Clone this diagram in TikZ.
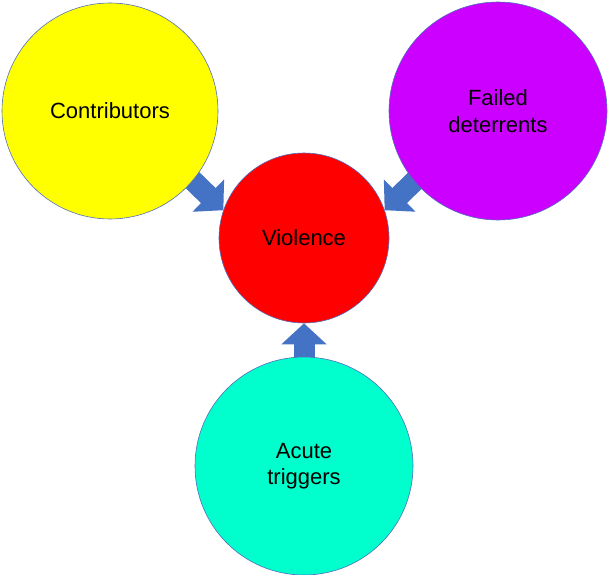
\documentclass[tikz,border=0pt]{standalone}
\usepackage{fontspec}
\setmainfont{Liberation Sans}
\usetikzlibrary{arrows.meta,backgrounds}
\definecolor{violred}{RGB}{255,0,0}
\definecolor{contribyellow}{RGB}{255,255,0}
\definecolor{deterpurple}{RGB}{204,0,255}
\definecolor{triggeraqua}{RGB}{0,255,204}
\definecolor{pushblue}{RGB}{68,114,196}
\definecolor{rimblue}{RGB}{80,110,190}

\begin{document}
\begin{tikzpicture}[x=1pt,y=-1pt,
    bubble/.style={circle,draw=rimblue,line width=0.6pt,inner sep=0pt,align=center,
      font=\fontsize{22}{26.5}\selectfont},
    pusharrow/.style={draw=pushblue,line width=21pt,shorten <=-10pt,
      -{Triangle[width=44pt,length=21pt]}}]
  \useasboundingbox (0,0) rectangle (610,575);
  % the four circles
  \node[bubble,fill=contribyellow,minimum size=216pt] (contrib) at (110,111) {Contributors};
  \node[bubble,fill=deterpurple,minimum size=218pt] (deter) at (498,111) {Failed\\deterrents};
  \node[bubble,fill=violred,minimum size=170pt] (viol) at (304,238) {Violence};
  \node[bubble,fill=triggeraqua,minimum size=218pt] (trigger) at (304,466) {Acute\\triggers};
  % block arrows pointing into violence
  \begin{scope}[on background layer]
    \draw[pusharrow] (contrib.-40) -- (viol.161);
    \draw[pusharrow] (deter.220) -- (viol.19);
    \draw[pusharrow] (trigger.north) -- (viol.south);
  \end{scope}
\end{tikzpicture}
\end{document}
